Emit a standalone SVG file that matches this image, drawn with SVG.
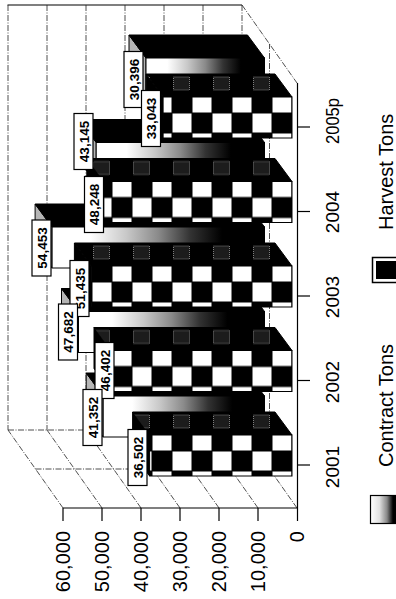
<svg xmlns="http://www.w3.org/2000/svg" width="396" height="599" viewBox="0 0 396 599">
<style>
.t{font-family:"Liberation Sans",Arial,Helvetica,sans-serif;fill:#000}
.ax{font-size:20px}
.cat{font-size:19px;text-anchor:middle}
.dl{font-size:13.5px;font-weight:bold;text-anchor:middle}
.grid{stroke:#222;stroke-width:0.8;fill:none;stroke-dasharray:6 1.5 1 1.5}
.axis{stroke:#000;stroke-width:1.2;fill:none}
.edge{stroke:#000;stroke-width:1}
.box{fill:#fff;stroke:#000;stroke-width:1.2}
</style>
<defs>
<pattern id="chk" patternUnits="userSpaceOnUse" x="0" y="-4" width="40" height="40">
<rect width="40" height="40" fill="#000"/>
<rect x="20.5" y="0.5" width="19" height="19" fill="#fff"/>
<rect x="0.5" y="20.5" width="19" height="19" fill="#fff"/>
</pattern>
<pattern id="tchk" patternUnits="userSpaceOnUse" x="0" y="0" width="40" height="40">
<rect x="1.5" y="20" width="16" height="13" fill="#1c1c1c" stroke="#9a9a9a" stroke-width="0.8" stroke-dasharray="1 1"/>
</pattern>
<linearGradient id="cg" x1="0" y1="0" x2="1" y2="0">
<stop offset="0" stop-color="#fff"/>
<stop offset="0.18" stop-color="#fff"/>
<stop offset="0.35" stop-color="#c8c8c8"/>
<stop offset="0.5" stop-color="#8a8a8a"/>
<stop offset="0.65" stop-color="#333"/>
<stop offset="0.8" stop-color="#000"/>
<stop offset="1" stop-color="#000"/>
</linearGradient>
<linearGradient id="lg" x1="0" y1="0" x2="1" y2="0">
<stop offset="0" stop-color="#fff"/>
<stop offset="0.3" stop-color="#e0e0e0"/>
<stop offset="0.55" stop-color="#888"/>
<stop offset="0.75" stop-color="#000"/>
<stop offset="1" stop-color="#000"/>
</linearGradient>
</defs>

<g id="walls">
<line class="axis" x1="7.5" y1="5" x2="242" y2="5"/>
<line class="grid" x1="8" y1="5" x2="8" y2="430"/>
<line class="grid" x1="47" y1="5" x2="47" y2="430"/>
<line class="grid" x1="86" y1="5" x2="86" y2="430"/>
<line class="grid" x1="125" y1="5" x2="125" y2="430"/>
<line class="grid" x1="164" y1="5" x2="164" y2="430"/>
<line class="grid" x1="203" y1="5" x2="203" y2="430"/>
<line class="grid" x1="242" y1="5" x2="242" y2="430"/>
<line class="grid" x1="8" y1="430" x2="242" y2="430"/>
<line class="grid" x1="63" y1="508" x2="8" y2="430"/>
<line class="grid" x1="102" y1="508" x2="47" y2="430"/>
<line class="grid" x1="141" y1="508" x2="86" y2="430"/>
<line class="grid" x1="180" y1="508" x2="125" y2="430"/>
<line class="grid" x1="219" y1="508" x2="164" y2="430"/>
<line class="grid" x1="258" y1="508" x2="203" y2="430"/>
<line class="grid" x1="297" y1="508" x2="242" y2="430"/>
<line class="grid" x1="242" y1="5" x2="297" y2="83"/>
<line class="grid" x1="35.5" y1="469" x2="269.5" y2="469"/>
<line class="grid" x1="269.5" y1="469" x2="269.5" y2="44"/>
</g>

<g id="connectors">
<line class="axis" x1="63" y1="508" x2="297.5" y2="508"/>
<line class="axis" x1="297.5" y1="83" x2="297.5" y2="521"/>
<line class="axis" x1="63" y1="508" x2="63" y2="521"/>
<line class="axis" x1="102" y1="508" x2="102" y2="521"/>
<line class="axis" x1="141" y1="508" x2="141" y2="521"/>
<line class="axis" x1="180" y1="508" x2="180" y2="521"/>
<line class="axis" x1="219" y1="508" x2="219" y2="521"/>
<line class="axis" x1="258" y1="508" x2="258" y2="521"/>
<line class="axis" x1="297.5" y1="127" x2="310" y2="127"/>
<line class="axis" x1="297.5" y1="211.5" x2="310" y2="211.5"/>
<line class="axis" x1="297.5" y1="296" x2="310" y2="296"/>
<line class="axis" x1="297.5" y1="380.5" x2="310" y2="380.5"/>
<line class="axis" x1="297.5" y1="465" x2="310" y2="465"/>
</g>

<!-- 2001 -->
<g id="contract-2001" transform="translate(264.5,396)">
<path class="edge" d="M-161.3,0 L-161.3,41 L-178.3,18 L-178.3,-23 Z" fill="#b5b5b5"/>
<path class="edge" d="M-161.3,0 L0,0 L-17,-23 L-178.3,-23 Z" fill="#000"/>
<rect class="edge" x="-161.3" y="0" width="161.3" height="41" fill="url(#cg)"/>
</g>
<g id="harvest-2001" transform="translate(292,435)">
<path class="edge" d="M-142.4,0 L-142.4,41 L-159.4,18 L-159.4,-23 Z" fill="#000"/>
<path class="edge" d="M-142.4,0 L0,0 L-17,-23 L-159.4,-23 Z" fill="#000"/>
<path d="M-142.4,0 L0,0 L-17,-23 L-159.4,-23 Z" fill="url(#tchk)"/>
<rect class="edge" x="-142.4" y="0" width="142.4" height="41" fill="url(#chk)"/>
</g>
<!-- 2002 -->
<g id="contract-2002" transform="translate(264.5,311.5)">
<path class="edge" d="M-186,0 L-186,41 L-203,18 L-203,-23 Z" fill="#b5b5b5"/>
<path class="edge" d="M-186,0 L0,0 L-17,-23 L-203,-23 Z" fill="#000"/>
<rect class="edge" x="-186" y="0" width="186" height="41" fill="url(#cg)"/>
</g>
<g id="harvest-2002" transform="translate(292,350.5)">
<path class="edge" d="M-181,0 L-181,41 L-198,18 L-198,-23 Z" fill="#000"/>
<path class="edge" d="M-181,0 L0,0 L-17,-23 L-198,-23 Z" fill="#000"/>
<path d="M-181,0 L0,0 L-17,-23 L-198,-23 Z" fill="url(#tchk)"/>
<rect class="edge" x="-181" y="0" width="181" height="41" fill="url(#chk)"/>
</g>
<!-- 2003 -->
<g id="contract-2003" transform="translate(264.5,227)">
<path class="edge" d="M-212.4,0 L-212.4,41 L-229.4,18 L-229.4,-23 Z" fill="#b5b5b5"/>
<path class="edge" d="M-212.4,0 L0,0 L-17,-23 L-229.4,-23 Z" fill="#000"/>
<rect class="edge" x="-212.4" y="0" width="212.4" height="41" fill="url(#cg)"/>
</g>
<g id="harvest-2003" transform="translate(292,266)">
<path class="edge" d="M-200.6,0 L-200.6,41 L-217.6,18 L-217.6,-23 Z" fill="#000"/>
<path class="edge" d="M-200.6,0 L0,0 L-17,-23 L-217.6,-23 Z" fill="#000"/>
<path d="M-200.6,0 L0,0 L-17,-23 L-217.6,-23 Z" fill="url(#tchk)"/>
<rect class="edge" x="-200.6" y="0" width="200.6" height="41" fill="url(#chk)"/>
</g>
<!-- 2004 -->
<g id="contract-2004" transform="translate(264.5,142.5)">
<path class="edge" d="M-168.3,0 L-168.3,41 L-185.3,18 L-185.3,-23 Z" fill="#b5b5b5"/>
<path class="edge" d="M-168.3,0 L0,0 L-17,-23 L-185.3,-23 Z" fill="#000"/>
<rect class="edge" x="-168.3" y="0" width="168.3" height="41" fill="url(#cg)"/>
</g>
<g id="harvest-2004" transform="translate(292,181.5)">
<path class="edge" d="M-188.2,0 L-188.2,41 L-205.2,18 L-205.2,-23 Z" fill="#000"/>
<path class="edge" d="M-188.2,0 L0,0 L-17,-23 L-205.2,-23 Z" fill="#000"/>
<path d="M-188.2,0 L0,0 L-17,-23 L-205.2,-23 Z" fill="url(#tchk)"/>
<rect class="edge" x="-188.2" y="0" width="188.2" height="41" fill="url(#chk)"/>
</g>
<!-- 2005p -->
<g id="contract-2005p" transform="translate(264.5,58)">
<path class="edge" d="M-118.5,0 L-118.5,41 L-135.5,18 L-135.5,-23 Z" fill="#b5b5b5"/>
<path class="edge" d="M-118.5,0 L0,0 L-17,-23 L-135.5,-23 Z" fill="#000"/>
<rect class="edge" x="-118.5" y="0" width="118.5" height="41" fill="url(#cg)"/>
</g>
<g id="harvest-2005p" transform="translate(292,97)">
<path class="edge" d="M-128.9,0 L-128.9,41 L-145.9,18 L-145.9,-23 Z" fill="#000"/>
<path class="edge" d="M-128.9,0 L0,0 L-17,-23 L-145.9,-23 Z" fill="#000"/>
<path d="M-128.9,0 L0,0 L-17,-23 L-145.9,-23 Z" fill="url(#tchk)"/>
<rect class="edge" x="-128.9" y="0" width="128.9" height="41" fill="url(#chk)"/>
</g>

<g id="data-labels">
<g id="dl-30396"><rect class="box" x="124" y="51.5" width="19" height="56"/><text class="t dl" transform="translate(138.5,79.5) rotate(-90)">30,396</text></g>
<g id="dl-33043"><rect class="box" x="141.5" y="90.5" width="19" height="56"/><text class="t dl" transform="translate(156,118.5) rotate(-90)">33,043</text></g>
<g id="dl-43145"><rect class="box" x="74" y="113.5" width="19" height="56"/><text class="t dl" transform="translate(88.5,141.5) rotate(-90)">43,145</text></g>
<g id="dl-48248"><rect class="box" x="84.5" y="176.5" width="19" height="56"/><text class="t dl" transform="translate(99,204.5) rotate(-90)">48,248</text></g>
<g id="dl-54453"><rect class="box" x="32" y="220" width="19" height="56"/><text class="t dl" transform="translate(46.5,248) rotate(-90)">54,453</text></g>
<g id="dl-51435"><rect class="box" x="70" y="260.5" width="19" height="56"/><text class="t dl" transform="translate(84.5,288.5) rotate(-90)">51,435</text></g>
<g id="dl-47682"><rect class="box" x="58.5" y="304" width="19" height="56"/><text class="t dl" transform="translate(73,332) rotate(-90)">47,682</text></g>
<g id="dl-46402"><rect class="box" x="95" y="342.5" width="19" height="56"/><text class="t dl" transform="translate(109.5,370.5) rotate(-90)">46,402</text></g>
<g id="dl-41352"><rect class="box" x="83" y="389.5" width="19" height="56"/><text class="t dl" transform="translate(97.5,417.5) rotate(-90)">41,352</text></g>
<g id="dl-36502"><rect class="box" x="128" y="429.5" width="19" height="56"/><text class="t dl" transform="translate(142.5,457.5) rotate(-90)">36,502</text></g>
</g>

<g id="value-axis-labels">
<text class="t ax" text-anchor="end" transform="translate(70,531) rotate(-90)">60,000</text>
<text class="t ax" text-anchor="end" transform="translate(109,531) rotate(-90)">50,000</text>
<text class="t ax" text-anchor="end" transform="translate(148,531) rotate(-90)">40,000</text>
<text class="t ax" text-anchor="end" transform="translate(187,531) rotate(-90)">30,000</text>
<text class="t ax" text-anchor="end" transform="translate(226,531) rotate(-90)">20,000</text>
<text class="t ax" text-anchor="end" transform="translate(265,531) rotate(-90)">10,000</text>
<text class="t ax" text-anchor="end" transform="translate(304,531) rotate(-90)">0</text>
</g>

<g id="category-labels">
<text class="t cat" transform="translate(339,467) rotate(-90)">2001</text>
<text class="t cat" transform="translate(339,382) rotate(-90)">2002</text>
<text class="t cat" transform="translate(339,297) rotate(-90)">2003</text>
<text class="t cat" transform="translate(339,212) rotate(-90)">2004</text>
<text class="t cat" transform="translate(339,121) rotate(-90)" textLength="46" lengthAdjust="spacingAndGlyphs">2005p</text>
</g>

<g id="legend-contract">
<rect x="370.5" y="495.5" width="30" height="28" fill="url(#lg)" stroke="#000" stroke-width="1.2"/>
<text class="t ax" transform="translate(393,467) rotate(-90)">Contract Tons</text>
</g>
<g id="legend-harvest">
<rect x="372.5" y="257.5" width="30" height="25" fill="#fff" stroke="#000" stroke-width="1.5"/>
<rect x="376" y="261" width="26" height="18" fill="#000"/>
<text class="t ax" transform="translate(393,230) rotate(-90)">Harvest Tons</text>
</g>
</svg>
